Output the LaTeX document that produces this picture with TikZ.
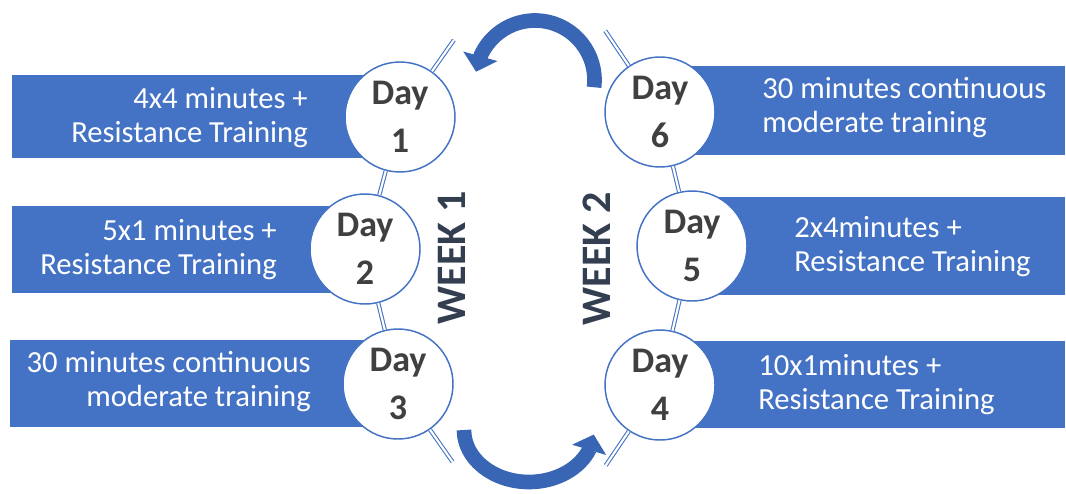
\documentclass[tikz,border=0pt]{standalone}
\usepackage{fontspec}
\setmainfont{Carlito}
\usepackage{xcolor}
\usepackage{tikz}
\usetikzlibrary{arrows.meta,bending,calc,positioning}
\definecolor{boxblue}{HTML}{4472C4}
\definecolor{arrowblue}{HTML}{3965B5}
\definecolor{daygray}{HTML}{404040}
\definecolor{weekgray}{HTML}{333F50}
\tikzset{day node/.style={circle,draw=boxblue,line width=1.1pt,fill=white,minimum size=82.5pt,inner sep=0pt,align=center,text=daygray,font=\fontsize{27pt}{36pt}\selectfont\bfseries},
	plan text/.style={text=white,inner sep=0pt,font=\fontsize{23pt}{25.5pt}\selectfont},
	link line/.style={draw=boxblue,line width=0.8pt,double=white,double distance=1.6pt},
	week text/.style={rotate=90,text=weekgray,font=\fontsize{31.5pt}{36pt}\selectfont\bfseries},
	turn arrow/.style={draw=arrowblue,line width=11pt,-{Triangle[length=12pt,width=26pt,flex]}}}

\begin{document}
\begin{tikzpicture}[x=0.75pt,y=0.75pt]
		\useasboundingbox (0,0) rectangle (1066,-493);
		
		\fill[boxblue] (12,-75) rectangle (400,-158);
		\fill[boxblue] (12,-206) rectangle (365,-293);
		\fill[boxblue] (10,-340) rectangle (398,-427);
		
		\fill[boxblue] (660,-66) rectangle (1065,-155);
		\fill[boxblue] (692,-197) rectangle (1065,-295);
		\fill[boxblue] (660,-341) rectangle (1065,-428);
		
		\node[plan text,anchor=east,align=right] (t1) at (308,-118) {4x4 minutes +\\Resistance Training};
		\node[plan text,anchor=east,align=right] (t2) at (277,-250) {5x1 minutes +\\Resistance Training};
		\node[plan text,anchor=east,align=right] (t3) at (311,-382) {30 minutes continuous\\moderate training};
		
		\node[plan text,anchor=west,align=left] (t6) at (762,-108) {30 minutes continuous\\moderate training};
		\node[plan text,anchor=west,align=left] (t5) at (794,-247) {2x4minutes +\\Resistance Training};
		\node[plan text,anchor=west,align=left] (t4) at (758,-385) {10x1minutes +\\Resistance Training};
		
		\node[day node] (d1) at (400,-117) {Day\\1};
		\node[day node] (d2) at (365,-249) {Day\\2};
		\node[day node] (d3) at (398,-384) {Day\\3};
		\node[day node] (d6) at (660,-112) {Day\\6};
		\node[day node] (d5) at (692,-246) {Day\\5};
		\node[day node] (d4) at (660,-385) {Day\\4};
		
		\coordinate (s1) at ($(d1)+(55:94)$);
		\coordinate (s3) at ($(d3)+(-55:95)$);
		\coordinate (s6) at ($(d6)+(124:98)$);
		\coordinate (s4) at ($(d4)+(-124:97)$);
		
		\draw[link line] (d1) -- (d2);
		\draw[link line] (d2) -- (d3);
		\draw[link line] (d6) -- (d5);
		\draw[link line] (d5) -- (d4);
		\draw[link line] (d1.55) -- (s1);
		\draw[link line] (d3.-55) -- (s3);
		\draw[link line] (d6.124) -- (s6);
		\draw[link line] (d4.-124) -- (s4);
		
		\node[week text] (w1) at (452,-258) {WEEK 1};
		\node[week text] (w2) at (597,-259) {WEEK 2};
		
		\draw[turn arrow] (535,-80) ++(-7:59.5) arc[start angle=-7,end angle=172,radius=59.5];
		\draw[turn arrow] (529,-430) ++(180:65) arc[start angle=180,end angle=355,x radius=65,y radius=52];
		
	\end{tikzpicture}
\end{document}
